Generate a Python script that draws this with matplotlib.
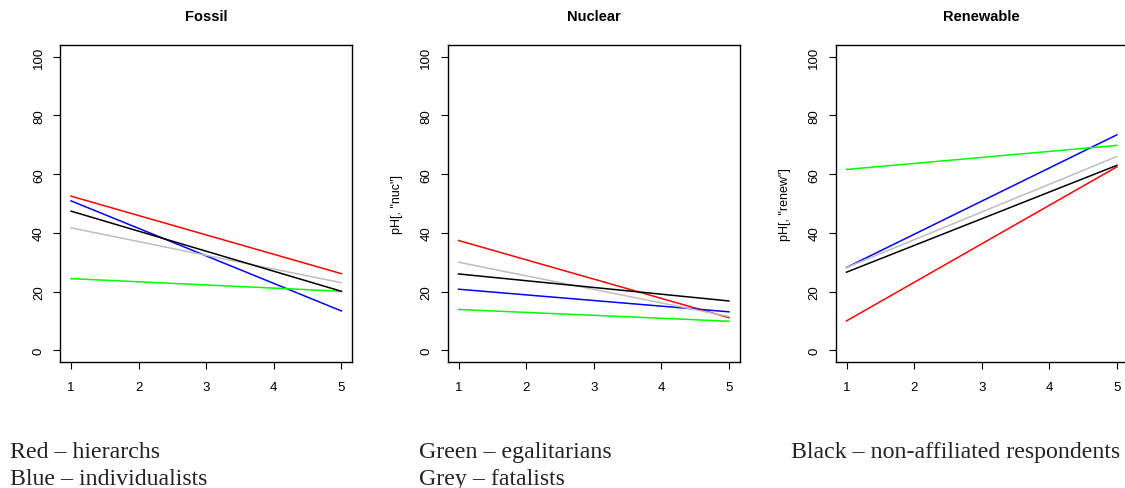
import matplotlib
matplotlib.use("Agg")
import matplotlib.pyplot as plt

plt.rcParams['font.family'] = ['Liberation Sans', 'DejaVu Sans']

x = [1, 5]
titles = ["Fossil", "Nuclear", "Renewable"]
ylabels = ["", 'pH[, "nuc"]', 'pH[, "renew"]']

# start / end values of each group, per panel
red = [[52.5, 26.1], [37.4, 11.1], [10.0, 62.5]]
blue = [[50.9, 13.4], [20.8, 13.1], [28.2, 73.4]]
green = [[24.4, 20.1], [13.9, 9.9], [61.6, 69.8]]
grey = [[41.7, 23.0], [30.0, 11.5], [28.2, 66.0]]
black = [[47.4, 20.1], [26.0, 16.8], [26.6, 63.0]]

notes = [("Red \u2013 hierarchs", "Blue \u2013 individualists"),
         ("Green \u2013 egalitarians", "Grey \u2013 fatalists"),
         ("Black \u2013 non-affiliated respondents", "")]

fig = plt.figure(figsize=(11.25, 4.89), dpi=100)
lefts = [60.2, 447.7, 835.7]
W, H = 1125.0, 489.0

for i in range(3):
    ax = fig.add_axes([lefts[i] / W, 126 / H, 292 / W, 317 / H])
    ax.plot(x, red[i], color='#FF0000', lw=1.1)
    ax.plot(x, blue[i], color='#0000FF', lw=1.1)
    ax.plot(x, green[i], color='#00FF00', lw=1.1)
    ax.plot(x, grey[i], color='#BEBEBE', lw=1.1)
    ax.plot(x, black[i], color='black', lw=1.1)
    ax.set_xlim(0.84, 5.16)
    ax.set_ylim(-4, 104)
    ax.set_xticks([1, 2, 3, 4, 5])
    ax.set_yticks([0, 20, 40, 60, 80, 100])
    ax.tick_params(direction='out', length=5, width=0.8, labelsize=9.5, pad=6)
    ax.tick_params(axis='x', pad=9)
    for lab in ax.get_yticklabels():
        lab.set_rotation(90)
        lab.set_va('center')
    for s in ax.spines.values():
        s.set_linewidth(1.0)
    ax.set_title(titles[i], fontsize=10.5, fontweight='bold', pad=18)
    if ylabels[i]:
        ax.set_ylabel(ylabels[i], fontsize=9)
        ax.yaxis.set_label_coords(-0.152, 0.5)

note_x = [10, 419, 791]
for i in range(3):
    for j, t in enumerate(notes[i]):
        if t:
            fig.text(note_x[i] / W, 1 - (458 + 27 * j) / H, t,
                     family='Liberation Serif', fontsize=17.2, va='baseline',
                     color='#222222')

fig.savefig("out.png", dpi=100)
